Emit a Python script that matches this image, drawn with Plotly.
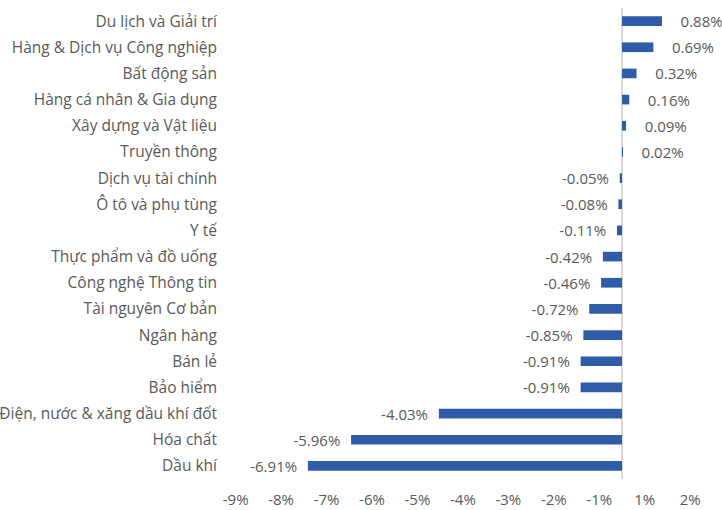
import plotly.graph_objects as go

categories = ["Du lịch và Giải trí", "Hàng & Dịch vụ Công nghiệp", "Bất động sản",
              "Hàng cá nhân & Gia dụng", "Xây dựng và Vật liệu", "Truyền thông",
              "Dịch vụ tài chính", "Ô tô và phụ tùng", "Y tế", "Thực phẩm và đồ uống",
              "Công nghệ Thông tin", "Tài nguyên Cơ bản", "Ngân hàng", "Bán lẻ",
              "Bảo hiểm", "Điện, nước & xăng dầu khí đốt", "Hóa chất", "Dầu khí"]
values = [0.88, 0.69, 0.32, 0.16, 0.09, 0.02, -0.05, -0.08, -0.11, -0.42,
          -0.46, -0.72, -0.85, -0.91, -0.91, -4.03, -5.96, -6.91]
tick_labels = ["-9%", "-8%", "-7%", "-6%", "-5%", "-4%", "-3%", "-2%", "-1%", "1%", "2%"]
tick_positions = [-8.5, -7.5, -6.5, -5.5, -4.5, -3.5, -2.5, -1.5, -0.5, 0.5, 1.5]

labels = [("\u00a0\u00a0\u00a0\u00a0" + f"{v:.2f}%") if v >= 0 else (f"{v:.2f}%" + "\u00a0\u00a0")
          for v in values]

FONT = "Open Sans"
GREY = "#595959"

fig = go.Figure(go.Bar(
    y=categories, x=values, orientation="h",
    marker=dict(color="#2E5CA9", line=dict(width=0)),
    text=labels, textposition="outside", cliponaxis=False, constraintext="none",
    textfont=dict(family=FONT, size=15, color=GREY),
    hoverinfo="skip",
))

fig.update_layout(
    width=722, height=510,
    margin=dict(l=222, r=0, t=8, b=31),
    paper_bgcolor="white", plot_bgcolor="white",
    bargap=0.63, showlegend=False,
    font=dict(family=FONT, size=15, color=GREY),
)
fig.update_xaxes(
    range=[-8.8, 2.2], tickvals=tick_positions, ticktext=tick_labels,
    showgrid=False, zeroline=True, zerolinecolor="#D9D9D9", zerolinewidth=2,
    showline=False, ticks="", ticklabelstandoff=10, automargin=False,
    tickfont=dict(family=FONT, size=15, color=GREY), fixedrange=True,
)
fig.update_yaxes(
    categoryorder="array", categoryarray=categories, autorange="reversed",
    showgrid=False, showline=False, ticks="", automargin=False, ticklabelstandoff=4,
    tickfont=dict(family=FONT, size=15.5, color=GREY), fixedrange=True,
)

fig.write_html("out.html")
